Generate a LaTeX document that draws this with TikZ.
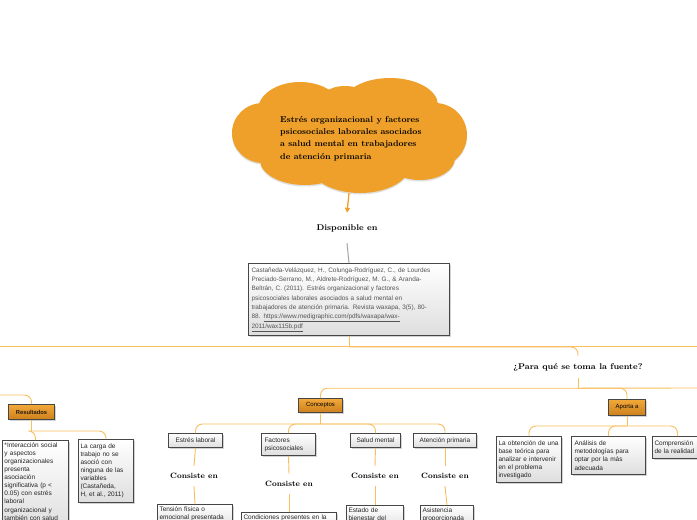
\documentclass[tikz,border=0pt]{standalone}
\usepackage{fontspec}
\newfontfamily\arial{Liberation Sans}
\usetikzlibrary{shapes.symbols,shadows,arrows.meta,calc}
\definecolor{cloudc}{RGB}{238,160,42}
\definecolor{arrowc}{RGB}{240,160,40}
\definecolor{connc}{RGB}{250,190,95}
\definecolor{grayc}{RGB}{165,165,165}
\definecolor{boxb}{RGB}{70,70,70}
\definecolor{boxg}{RGB}{222,222,222}
\definecolor{otop}{RGB}{242,168,58}
\definecolor{obot}{RGB}{205,128,28}
\definecolor{reftext}{RGB}{85,85,85}
\tikzset{
  conn/.style={draw=connc, line width=0.9pt, rounded corners=7pt},
  wbox/.style={draw=boxb, line width=1pt, top color=white, bottom color=boxg,
    drop shadow={shadow xshift=1.2pt, shadow yshift=-1.2pt, opacity=0.35},
    font=\arial\fontsize{6.5}{8.1}\selectfont, text=black!85, align=left,
    inner sep=2pt, anchor=north west},
  cbox/.style={wbox, inner xsep=3pt, inner ysep=1pt, minimum height=14pt},
  obox/.style={draw=boxb, line width=1pt, top color=otop, bottom color=obot,
    drop shadow={shadow xshift=1.2pt, shadow yshift=-1.2pt, opacity=0.35},
    font=\arial\fontsize{6}{7}\selectfont, text=black, inner sep=1pt, anchor=north west},
  lbl/.style={font=\bfseries\fontsize{8.3}{10}\selectfont, inner sep=0pt},
  cons/.style={font=\bfseries\fontsize{7.7}{9}\selectfont, inner sep=0pt, minimum height=20pt},
}
\begin{document}
\begin{tikzpicture}[x=1pt,y=-1pt]
\useasboundingbox (0,0) rectangle (697,520);
\fill[white] (0,0) rectangle (697,520);

% title cloud (drawn as a union of puffs)
\fill[cloudc, drop shadow={shadow xshift=0pt, shadow yshift=-1.5pt, opacity=0.25}]
  (300,110) ellipse [x radius=42, y radius=28]
  (390,105) ellipse [x radius=48, y radius=27]
  (345,108) ellipse [x radius=30, y radius=22]
  (263,133) ellipse [x radius=31, y radius=30]
  (435,135) ellipse [x radius=32, y radius=32]
  (305,160) ellipse [x radius=45, y radius=25]
  (360,165) ellipse [x radius=50, y radius=28]
  (420,158) ellipse [x radius=35, y radius=22]
  (349,135) ellipse [x radius=95, y radius=40];
\node[minimum width=236pt, minimum height=115pt, inner sep=0pt] (title) at (349,135.5) {};
\node[font=\bfseries\fontsize{8.5}{12.3}\selectfont, align=left, anchor=north west, inner sep=0pt] (titletext) at (280,116)
  {Estrés organizacional y factores\\psicosociales laborales asociados\\a salud mental en trabajadores\\de atención primaria};

\node[lbl, minimum height=30pt] (disp) at (347,228) {Disponible en};
\draw[arrowc, line width=1.3pt, -{Triangle[width=5pt,length=5pt]}] (title.south) -- (disp.north);

\node[wbox, text=reftext, text width=195pt, inner sep=3pt, minimum height=72pt,
  font=\arial\fontsize{6.4}{9.3}\selectfont] (ref) at (248,263)
  {Castañeda-Velázquez, H., Colunga-Rodríguez, C., de Lourdes\\
   Preciado-Serrano, M., Aldrete-Rodríguez, M. G., \& Aranda-\\
   Beltrán, C. (2011). Estrés organizacional y factores\\
   psicosociales laborales asociados a salud mental en\\
   trabajadores de atención primaria. Revista waxapa, 3(5), 80-\\
   88. \underline{https://www.medigraphic.com/pdfs/waxapa/wax-}\\
   \underline{2011/wax115b.pdf}};
\draw[grayc, line width=1pt] (disp.south) -- (ref.north);

% main horizontal
\coordinate (lend) at (0,346);
\coordinate (rend) at (697,346);
\draw[conn] (lend) -- (rend);
\draw[conn] (ref.south) -- ++(0,11) coordinate (j1);

\node[lbl, minimum height=22pt] (para) at (578,367) {¿Para qué se toma la fuente?};
\draw[conn] (j1) -| (para.north);
\draw[conn] (para.south) -- ++(0,10) coordinate (j2);
\coordinate (rend2) at (697,388);
\draw[conn] (j2) -- (rend2);

% orange boxes
\node[obox, minimum width=44pt, minimum height=14pt] (conc) at (298,398) {Conceptos};
\node[obox, minimum width=37pt, minimum height=16pt] (aport) at (608,399) {Aporta a};
\node[obox, minimum width=46pt, minimum height=15pt, font=\arial\bfseries\fontsize{5.8}{7}\selectfont, text=black!80!brown] (result) at (8,404) {Resultados};
\draw[conn] (j2) -| (conc.north);
\draw[conn] (j2) -| (aport.north);
\coordinate (lres) at (0,395);
\draw[conn] (lres) -| (result.north);

% concepts
\node[cbox, minimum width=54pt] (estres) at (168,433) {Estrés laboral};
\node[cbox, text width=48pt, minimum height=22pt, inner xsep=3pt, inner ysep=2pt] (factores) at (261,433) {Factores\\psicosociales};
\node[cbox, minimum width=50pt] (salud) at (350,433) {Salud mental};
\node[cbox, minimum width=63pt] (atencion) at (413,433) {Atención primaria};
\draw[conn] (conc.south) -- ++(0,11) coordinate (j3);
\foreach \n in {estres,factores,salud,atencion} {\draw[conn] (j3) -| (\n.north);}

\node[cons] (c1) at (194,476) {Consiste en};
\node[cons] (c2) at (289,484) {Consiste en};
\node[cons] (c3) at (375,476) {Consiste en};
\node[cons] (c4) at (445,476) {Consiste en};

\node[wbox, text width=71pt] (tension) at (157,504) {Tensión física o\\emocional presentada\\\mbox{}};
\node[wbox, text width=91pt] (condic) at (241,512) {Condiciones presentes en la\\\mbox{}\\\mbox{}};
\node[wbox, text width=53pt] (estado) at (346,505) {Estado de\\bienestar del\\\mbox{}};
\node[wbox, text width=49pt] (asist) at (420,505) {Asistencia\\proporcionada\\\mbox{}};

\draw[conn] (estres.south) -- (c1.north);
\draw[conn] (c1.south) -- (tension.north);
\draw[conn] (factores.south) -- (c2.north);
\draw[conn] (c2.south) -- (condic.north);
\draw[conn] (salud.south) -- (c3.north);
\draw[conn] (c3.south) -- (estado.north);
\draw[conn] (atencion.south) -- (c4.north);
\draw[conn] (c4.south) -- (asist.north);

% Resultados children
\node[wbox, text width=62pt] (r1) at (2,440)
  {*Interacción social\\y aspectos\\organizacionales\\presenta\\asociación\\significativa (p <\\0.05) con estrés\\laboral\\organizacional y\\también con salud\\\mbox{}};
\node[wbox, text width=51pt, minimum height=63pt] (r2) at (78,439)
  {La carga de\\trabajo no se\\asoció con\\ninguna de las\\variables\\(Castañeda,\\H, et al., 2011)};
\draw[conn] (result.south) -- ++(0,11) coordinate (j5);
\draw[conn] (j5) -| (r1.north);
\draw[conn] (j5) -| (r2.north);

% Aporta children
\node[wbox, text width=61pt, minimum height=46pt] (a1) at (496,436)
  {La obtención de una\\base teórica para\\analizar e intervenir\\en el problema\\investigado};
\node[wbox, text width=68pt, inner xsep=3pt, minimum height=38pt] (a2) at (571,436)
  {Análisis de\\metodologías para\\optar por la más\\adecuada};
\node[wbox, text width=46pt, minimum height=22pt] (a3) at (652,436)
  {Comprensión\\de la realidad};
\draw[conn] (aport.south) -- ++(0,10) coordinate (j4);
\foreach \n in {a1,a2,a3} {\draw[conn] (j4) -| (\n.north);}
\end{tikzpicture}
\end{document}
